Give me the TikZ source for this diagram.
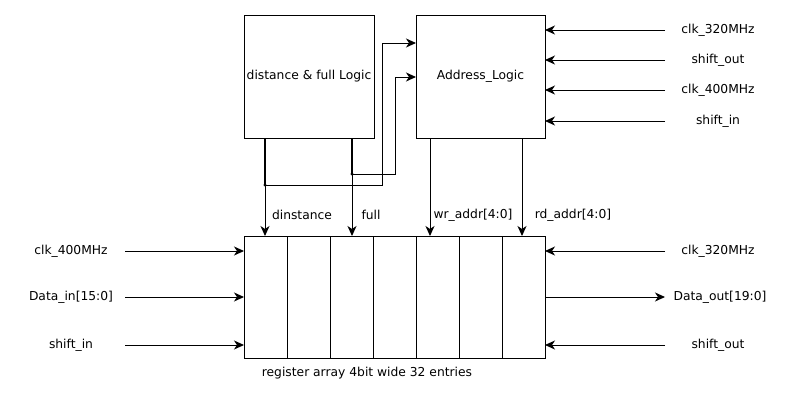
\documentclass[tikz,border=0pt]{standalone}
\usepackage{fontspec}
\setmainfont{DejaVu Sans}
\usetikzlibrary{arrows.meta}

\tikzset{
  block/.style={draw,anchor=north west,inner sep=0pt,outer sep=0pt},
  sig/.style={->},
  bus/.style={line width=1.8pt}
}

\begin{document}
\begin{tikzpicture}[x=1pt,y=-1pt,line width=1pt,>={Stealth[length=10pt,width=9pt,inset=3pt]},
  font=\fontsize{12.3}{14}\selectfont]
\useasboundingbox (0,0) rectangle (789,410);

% logic blocks
\node[block,minimum width=130pt,minimum height=123pt] (dfl) at (244,15) {};
\node[block,minimum width=129pt,minimum height=123pt] (adr) at (416,15) {};
\node (dfltext) at (dfl.center) {distance \& full Logic};
\node (adrtext) at (adr.center) {Address\_Logic};

% register array
\node[block,minimum width=301pt,minimum height=122pt] (reg) at (244,236) {};
\foreach \i in {1,...,6}
  \draw (244+43*\i,236) -- (244+43*\i,358);
\node (regtext) at (367,373) {register array 4bit wide 32 entries};

% outputs of the logic blocks
\coordinate (dout) at (265,138);
\coordinate (fout) at (352,138);
\coordinate (wout) at (430,138);
\coordinate (rout) at (522,138);
\coordinate (din) at (265,236);
\coordinate (fin) at (352,236);
\coordinate (win) at (430,236);
\coordinate (rin) at (522,236);
\coordinate (dj) at (265,185);
\coordinate (fj) at (352,174);

\draw[bus] (dout) -- (dj);
\draw[bus] (fout) -- (fj);
\draw[sig] (dout) -- (din);
\draw[sig] (fout) -- (fin);
\draw[sig] (wout) -- (win);
\draw[sig] (rout) -- (rin);
\fill (dj) circle (1.6pt);
\fill (fj) circle (1.6pt);

% feedback into Address_Logic
\coordinate (ain1) at (416,43);
\coordinate (ain2) at (416,77);
\draw[sig] (dj) -| (382,43) -- (ain1);
\draw[sig] (fj) -| (395,77) -- (ain2);

\node (ldist) at (302,215) {dinstance};
\node (lfull) at (371,215) {full};
\node (lwr) at (473,215) {wr\_addr[4:0]};
\node (lrd) at (573,215) {rd\_addr[4:0]};

% inputs of Address_Logic
\foreach \y/\txt/\nm in {30/clk\_320MHz/a1,60/shift\_out/a2,90/clk\_400MHz/a3,121/shift\_in/a4} {
  \node (\nm) at (718,\y) {\txt};
  \coordinate (\nm s) at (665,\y);
  \coordinate (\nm e) at (545,\y);
  \draw[sig] (\nm s) -- (\nm e);
}

% inputs of the register array
\foreach \y/\txt/\nm in {251/clk\_400MHz/l1,297/Data\_in[15:0]/l2,345/shift\_in/l3} {
  \node (\nm) at (71,\y) {\txt};
  \coordinate (\nm s) at (125,\y);
  \coordinate (\nm e) at (244,\y);
  \draw[sig] (\nm s) -- (\nm e);
}

\node (r1) at (718,251) {clk\_320MHz};
\node (r2) at (720,297) {Data\_out[19:0]};
\node (r3) at (718,345) {shift\_out};
\coordinate (r1s) at (665,251);
\coordinate (r1e) at (545,251);
\coordinate (r2s) at (545,297);
\coordinate (r2e) at (665,297);
\coordinate (r3s) at (665,345);
\coordinate (r3e) at (545,345);
\draw[sig] (r1s) -- (r1e);
\draw[sig] (r2s) -- (r2e);
\draw[sig] (r3s) -- (r3e);

\end{tikzpicture}
\end{document}
